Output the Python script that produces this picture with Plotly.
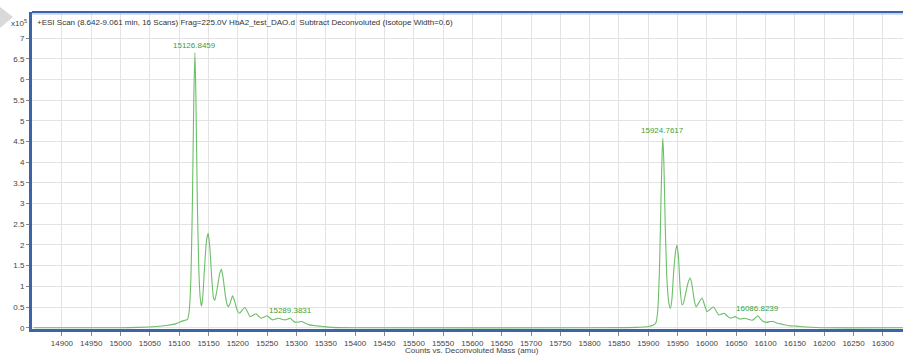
import plotly.graph_objects as go

# ---- data (intensity in units of 10^5 counts) ----
mass = [14852, 15000, 15030, 15060, 15080, 15095, 15105, 15110, 15114, 15117,
        15120, 15122.5, 15125, 15126.85, 15128.5, 15131, 15133.5, 15136, 15138, 15140,
        15143, 15146.5, 15149.5, 15152.5, 15155.5, 15158.5, 15160.5, 15163, 15166, 15169,
        15172, 15175, 15178.5, 15182, 15184, 15187, 15191, 15195, 15199, 15203,
        15207, 15212, 15216, 15221, 15226, 15231, 15236, 15240, 15245, 15250,
        15255, 15259, 15264, 15270, 15276, 15281, 15285, 15289.38, 15294, 15298,
        15304, 15309, 15315, 15322, 15332, 15345, 15360, 15400, 15800, 15880,
        15900, 15908, 15913, 15916, 15919, 15921.5, 15923.5, 15924.76, 15926.5, 15929,
        15932, 15935, 15937.5, 15940, 15943, 15946.5, 15949, 15951.5, 15954.5, 15957.5,
        15960, 15964, 15968, 15971.5, 15975, 15978.5, 15981.5, 15986, 15991.5, 15996,
        16000, 16005, 16011, 16016, 16020, 16025, 16029.5, 16035, 16040, 16044,
        16048, 16053, 16057, 16061, 16065, 16071, 16077, 16082, 16086.82, 16091,
        16096, 16102, 16108, 16113, 16120, 16130, 16140, 16153, 16170, 16200,
        16334]
intensity = [0.0, 0.0, 0.01, 0.03, 0.06, 0.10, 0.16, 0.18, 0.20, 0.40,
             1.2, 3.0, 5.6, 6.65, 5.6, 3.0, 1.4, 0.7, 0.52, 0.7,
             1.4, 2.1, 2.28, 1.9, 1.2, 0.72, 0.66, 0.8, 1.05, 1.3,
             1.41, 1.2, 0.8, 0.55, 0.51, 0.6, 0.77, 0.62, 0.42, 0.35,
             0.42, 0.49, 0.40, 0.27, 0.30, 0.34, 0.27, 0.23, 0.26, 0.29,
             0.23, 0.19, 0.21, 0.23, 0.20, 0.19, 0.21, 0.23, 0.17, 0.13,
             0.14, 0.15, 0.11, 0.07, 0.05, 0.03, 0.01, 0.0, 0.0, 0.01,
             0.03, 0.06, 0.12, 0.4, 1.4, 3.0, 4.2, 4.58, 4.0, 2.4,
             1.1, 0.6, 0.47, 0.65, 1.3, 1.85, 2.0, 1.7, 0.9, 0.55,
             0.6, 0.85, 1.1, 1.2, 1.0, 0.65, 0.51, 0.6, 0.72, 0.55,
             0.39, 0.44, 0.5, 0.4, 0.31, 0.33, 0.35, 0.28, 0.23, 0.25,
             0.27, 0.23, 0.21, 0.22, 0.23, 0.20, 0.18, 0.23, 0.29, 0.22,
             0.15, 0.13, 0.15, 0.15, 0.11, 0.08, 0.05, 0.04, 0.02, 0.0,
             0.0]

peak_mass = [15126.8459, 15289.3831, 15924.7617, 16086.8239]
peak_height = [6.65, 0.23, 4.58, 0.29]
peak_labels = ["15126.8459", "15289.3831", "15924.7617", "16086.8239"]

x_ticks = list(range(14900, 16301, 50))
y_ticks = [0, 0.5, 1, 1.5, 2, 2.5, 3, 3.5, 4, 4.5, 5, 5.5, 6, 6.5, 7]
y_tick_text = ["0", "0.5", "1", "1.5", "2", "2.5", "3", "3.5", "4", "4.5", "5", "5.5", "6", "6.5", "7"]

title_text = "+ESI Scan (8.642-9.061 min, 16 Scans) Frag=225.0V HbA2_test_DAO.d  Subtract Deconvoluted (Isotope Width=0.6)"
x_title = "Counts vs. Deconvoluted Mass (amu)"

FONT = "Liberation Sans Narrow, Liberation Sans, Arial, sans-serif"
W, H = 903, 356
L, R, T, B = 32, 0, 12, 27
pw, ph = W - L - R, H - T - B

def px(xp):
    return (xp - L) / pw

def py(yp):
    return (H - B - yp) / ph

fig = go.Figure()
fig.add_trace(go.Scatter(
    x=mass, y=intensity, mode="lines",
    line=dict(color="#6cbf68", width=1.1, shape="spline", smoothing=0.5),
    hoverinfo="skip", showlegend=False))

for m, h, t in zip(peak_mass, peak_height, peak_labels):
    fig.add_annotation(x=m, y=h, text=t, showarrow=False, xanchor="center",
                       yanchor="bottom", yshift=1,
                       font=dict(family=FONT, size=8, color="#3f9e3c"))

fig.add_annotation(xref="paper", yref="paper", x=px(35), y=py(22), text=title_text,
                   showarrow=False, xanchor="left", yanchor="middle",
                   font=dict(family=FONT, size=8, color="#333333"))
fig.add_annotation(xref="paper", yref="paper", x=px(9), y=py(23), text="x10<sup>5</sup>",
                   showarrow=False, xanchor="left", yanchor="middle",
                   font=dict(family=FONT, size=8, color="#444444"))
fig.add_annotation(xref="paper", yref="paper", x=px(472), y=py(350), text=x_title,
                   showarrow=False, xanchor="center", yanchor="middle",
                   font=dict(family=FONT, size=8, color="#444444"))

# top frame (double blue line)
fig.add_shape(type="line", xref="paper", yref="paper", x0=0, x1=px(W + 5), y0=py(12), y1=py(12),
              line=dict(color="#3d64a8", width=2), layer="above")
fig.add_shape(type="line", xref="paper", yref="paper", x0=0, x1=px(W + 5), y0=py(13.8), y1=py(13.8),
              line=dict(color="#a9c4e6", width=1.2), layer="above")
# corner marker
fig.add_shape(type="path", xref="paper", yref="paper",
              path=f"M {px(0)},{py(7)} L {px(13)},{py(17)} L {px(0)},{py(28)} Z",
              fillcolor="#d9d9d9", line=dict(width=0))

fig.update_layout(
    width=W, height=H,
    margin=dict(l=L, r=R, t=T, b=B, pad=0),
    paper_bgcolor="white", plot_bgcolor="white",
    font=dict(family=FONT, size=8, color="#444444"),
    xaxis=dict(range=[14849, 14849 + pw / 0.5864], tickmode="array", tickvals=x_ticks,
               ticktext=[str(v) for v in x_ticks],
               showgrid=True, gridcolor="#e3e3e3", gridwidth=1,
               showline=True, linecolor="#3d64a8", linewidth=3,
               ticks="outside", ticklen=4, tickcolor="#888888", tickwidth=1,
               zeroline=False, tickfont=dict(family=FONT, size=8, color="#444444")),
    yaxis=dict(range=[-0.03, 7.63], tickmode="array", tickvals=y_ticks, ticktext=y_tick_text,
               showgrid=True, gridcolor="#e3e3e3", gridwidth=1,
               showline=True, linecolor="#3d64a8", linewidth=3,
               ticks="outside", ticklen=3, tickcolor="#888888", tickwidth=1,
               zeroline=False, tickfont=dict(family=FONT, size=8, color="#444444")),
)

fig.write_html("out.html")
